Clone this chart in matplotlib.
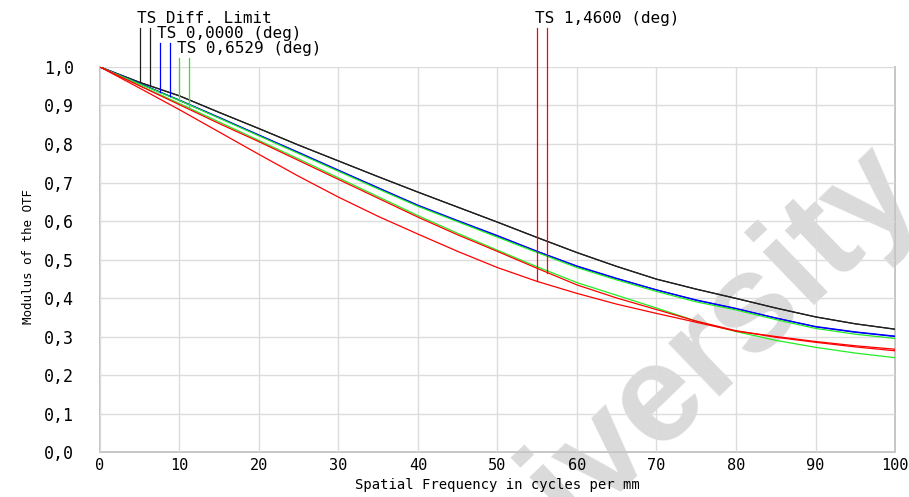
import numpy as np
import matplotlib.pyplot as plt

# spatial frequency (cycles/mm)
freq = [0, 5, 10, 15, 20, 25, 30, 35, 40, 45, 50, 55, 60, 65, 70, 75, 80, 85, 90, 95, 100]

diff_T = [1.0, 0.960, 0.925, 0.882, 0.840, 0.797, 0.756, 0.715, 0.675, 0.636, 0.597,
          0.557, 0.518, 0.482, 0.449, 0.423, 0.399, 0.374, 0.351, 0.333, 0.319]
diff_S = diff_T
f0_T = [1.0, 0.957, 0.914, 0.869, 0.823, 0.778, 0.732, 0.686, 0.641, 0.601, 0.562,
        0.521, 0.483, 0.451, 0.421, 0.395, 0.373, 0.348, 0.325, 0.311, 0.300]
f0_S = [1.0, 0.957, 0.913, 0.868, 0.823, 0.777, 0.731, 0.686, 0.640, 0.600, 0.561,
        0.521, 0.482, 0.450, 0.421, 0.394, 0.372, 0.348, 0.326, 0.312, 0.301]
f1_T = [1.0, 0.956, 0.913, 0.867, 0.821, 0.775, 0.729, 0.683, 0.638, 0.598, 0.558,
        0.518, 0.479, 0.447, 0.417, 0.390, 0.369, 0.344, 0.321, 0.306, 0.295]
f1_S = [1.0, 0.952, 0.905, 0.857, 0.809, 0.761, 0.712, 0.663, 0.614, 0.568, 0.524,
        0.481, 0.440, 0.407, 0.374, 0.340, 0.313, 0.290, 0.272, 0.257, 0.245]
f2_T = [1.0, 0.945, 0.889, 0.831, 0.773, 0.716, 0.662, 0.612, 0.566, 0.521, 0.479,
        0.443, 0.412, 0.384, 0.360, 0.337, 0.314, 0.300, 0.287, 0.276, 0.267]
f2_S = [1.0, 0.951, 0.902, 0.853, 0.806, 0.757, 0.708, 0.659, 0.610, 0.564, 0.521,
        0.477, 0.434, 0.400, 0.370, 0.340, 0.315, 0.298, 0.285, 0.273, 0.263]

# legend marker positions (frequency of each T / S tick)
labels = ["TS Diff. Limit", "TS 0,0000 (deg)", "TS 0,6529 (deg)", "TS 1,4600 (deg)"]
colors = ["#202020", "#0000ff", "#22ee22", "#ff0000"]
series = [(diff_T, diff_S), (f0_T, f0_S), (f1_T, f1_S), (f2_T, f2_S)]
marker_x = [(5.0, 6.25), (7.5, 8.75), (10.0, 11.25), (55.0, 56.25)]
marker_top = [1.101, 1.062, 1.023, 1.101]

fig = plt.figure(figsize=(9.09, 4.97), dpi=100)
ax = fig.add_axes([0.110, 0.0905, 0.8746, 0.7747])

mono = "DejaVu Sans Mono"

# watermark
ax.text(0.722, 0.195, "University", transform=fig.transFigure, rotation=44,
        rotation_mode="anchor", ha="center", va="center", fontsize=100,
        fontweight="bold", family="Liberation Sans", color="#dadada",
        zorder=1.5)

for (sT, sS), c in zip(series, colors):
    ax.plot(freq, sT, color=c, lw=0.9, zorder=3)
    ax.plot(freq, sS, color=c, lw=0.9, zorder=3)

for (sT, sS), c, (xt, xs), top, lab in zip(series, colors, marker_x, marker_top, labels):
    yt = np.interp(xt, freq, sT)
    ys = np.interp(xs, freq, sS)
    ax.plot([xt, xt], [yt, top], color=c, lw=0.9, clip_on=False, zorder=3)
    ax.plot([xs, xs], [ys, top], color=c, lw=0.9, clip_on=False, zorder=3)
    ax.text(xt - 0.3, top + 0.014, lab, family=mono, fontsize=11.5,
            ha="left", va="baseline", clip_on=False)

ax.set_xlim(0, 100)
ax.set_ylim(0, 1.0)
ax.set_xticks(np.arange(0, 101, 10))
ax.set_yticks(np.arange(0, 1.01, 0.1))
ax.set_yticklabels([f"{v:.1f}".replace(".", ",") for v in np.arange(0, 1.01, 0.1)],
                   family=mono, fontsize=12)
ax.set_xticklabels([str(v) for v in range(0, 101, 10)], family=mono, fontsize=11)
ax.tick_params(axis="both", length=0)
ax.tick_params(axis="y", pad=19)
ax.tick_params(axis="x", pad=4)
ax.grid(True, color="#dcdcdc", lw=1.0)
ax.set_axisbelow(False)
for side in ["left", "bottom", "right"]:
    ax.spines[side].set_color("#c4c4c4")
    ax.spines[side].set_linewidth(1.4)
ax.spines["top"].set_visible(False)

fig.text(0.547, 0.024, "Spatial Frequency in cycles per mm", family=mono, fontsize=10,
         ha="center", va="center", zorder=5)
fig.text(0.031, 0.483, "Modulus of the OTF", family=mono, fontsize=9,
         rotation=90, ha="center", va="center")

fig.savefig("out.png", dpi=100)
